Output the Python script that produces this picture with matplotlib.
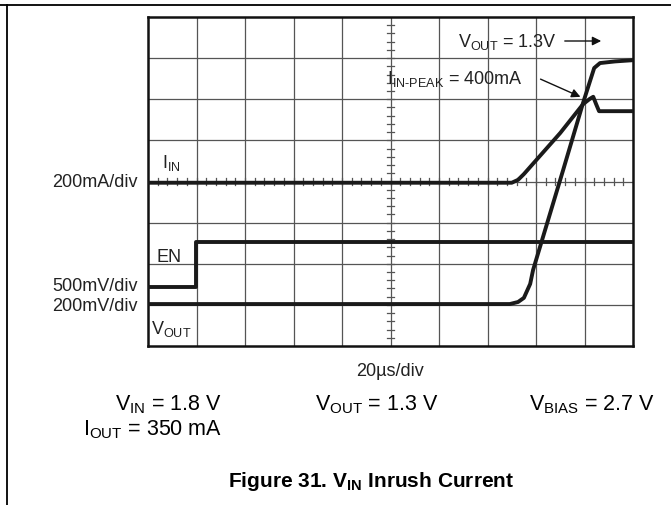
import matplotlib
matplotlib.use("Agg")
from matplotlib import pyplot as plt
from matplotlib.lines import Line2D

plt.rcParams['font.family'] = ['Liberation Sans', 'DejaVu Sans']
plt.rcParams['mathtext.fontset'] = 'custom'
plt.rcParams['mathtext.rm'] = 'Liberation Sans'
plt.rcParams['mathtext.bf'] = 'Liberation Sans:bold'

# scope traces, in screen divisions (10 x 8)
iin_t = [0, 7.5, 7.63, 7.75, 8.08, 8.5, 8.97, 9.11, 9.18, 9.24, 9.3, 10]
iin_v = [3.97, 3.97, 4.04, 4.18, 4.62, 5.18, 5.88, 6.01, 6.06, 5.88, 5.71, 5.71]

en_t = [0, 0.98, 0.98, 10]
en_v = [1.43, 1.43, 2.54, 2.54]

vout_t = [0, 7.46, 7.63, 7.75, 7.88, 7.94, 8.56, 8.97, 9.2, 9.32, 9.63, 10]
vout_v = [1.02, 1.02, 1.07, 1.17, 1.51, 1.85, 4.28, 5.91, 6.76, 6.88, 6.92, 6.95]

W, H = 671, 505
def fx(x):
    return x / W
def fy(y):
    return 1 - y / H

fig = plt.figure(figsize=(6.71, 5.05), dpi=100)
fig.patch.set_facecolor('white')

# page frame lines
fig.add_artist(Line2D([0, 1], [fy(5), fy(5)], transform=fig.transFigure, color='black', lw=1.3))
fig.add_artist(Line2D([fx(7), fx(7)], [0, fy(5)], transform=fig.transFigure, color='black', lw=1.3))

ax = fig.add_axes([fx(148), fy(346), fx(633) - fx(148), fy(17) - fy(346)])
ax.set_xlim(0, 10)
ax.set_ylim(0, 8)
ax.set_xticks([])
ax.set_yticks([])
for s in ax.spines.values():
    s.set_linewidth(1.8)
    s.set_color('#111111')

# graticule
for i in range(1, 10):
    ax.axvline(i, color='#555555', lw=0.9, zorder=1)
for j in range(1, 8):
    ax.axhline(j, color='#555555', lw=0.9, zorder=1)
# minor ticks on the centre lines
for k in range(1, 40):
    y = k * 0.2
    ax.plot([4.93, 5.07], [y, y], color='#555555', lw=0.9, zorder=1)
for k in range(1, 50):
    x = k * 0.2
    ax.plot([x, x], [3.91, 4.09], color='#555555', lw=0.9, zorder=1)

tc = '#1a1a1a'
ax.plot(iin_t, iin_v, color=tc, lw=2.8, zorder=3, solid_joinstyle='round')
ax.plot(en_t, en_v, color=tc, lw=2.8, zorder=3)
ax.plot(vout_t, vout_v, color=tc, lw=2.8, zorder=3, solid_joinstyle='round')

# labels inside the screen
def px2d(x, y):
    return (x - 148) / 48.5, (346 - y) / 41.125

fs = 13
ax.text(*px2d(162, 168), r'$\mathrm{I_{IN}}$', fontsize=fs, va='baseline', ha='left', color='#222222')
ax.text(*px2d(156, 262), 'EN', fontsize=fs, va='baseline', ha='left', color='#222222')
ax.text(*px2d(151, 334), r'$\mathrm{V_{OUT}}$', fontsize=fs, va='baseline', ha='left', color='#222222')
ax.text(*px2d(458, 47), r'$\mathrm{V_{OUT}}$ = 1.3V', fontsize=fs, va='baseline', ha='left', color='#222222')
ax.text(*px2d(387, 84), r'$\mathrm{I_{IN\text{-}PEAK}}$ = 400mA', fontsize=fs, va='baseline', ha='left', color='#222222')
ax.annotate('', xy=px2d(604, 41), xytext=px2d(562, 41),
            arrowprops=dict(arrowstyle='-|>', color='#111111', lw=1.0, mutation_scale=13))
ax.annotate('', xy=px2d(583, 98), xytext=px2d(538, 78),
            arrowprops=dict(arrowstyle='-|>', color='#111111', lw=1.0, mutation_scale=13))

# scale labels left of the screen
fig.text(fx(138), fy(187), '200mA/div', fontsize=fs, ha='right', va='baseline', color='#222222')
fig.text(fx(138), fy(291), '500mV/div', fontsize=fs, ha='right', va='baseline', color='#222222')
fig.text(fx(138), fy(311), '200mV/div', fontsize=fs, ha='right', va='baseline', color='#222222')
fig.text(fx(390), fy(376), '20µs/div', fontsize=fs, ha='center', va='baseline', color='#222222')

# test conditions
fs2 = 15.5
fig.text(fx(222), fy(410), r'$\mathrm{V_{IN}}$ = 1.8 V', fontsize=fs2, ha='right', va='baseline')
fig.text(fx(222), fy(435), r'$\mathrm{I_{OUT}}$ = 350 mA', fontsize=fs2, ha='right', va='baseline')
fig.text(fx(315), fy(410), r'$\mathrm{V_{OUT}}$ = 1.3 V', fontsize=fs2, ha='left', va='baseline')
fig.text(fx(655), fy(410), r'$\mathrm{V_{BIAS}}$ = 2.7 V', fontsize=fs2, ha='right', va='baseline')

fig.text(fx(371), fy(487), r'Figure 31. $\mathbf{V_{IN}}$ Inrush Current', fontsize=15,
         fontweight='bold', ha='center', va='baseline')

fig.savefig('out.png', dpi=100, facecolor='white')
